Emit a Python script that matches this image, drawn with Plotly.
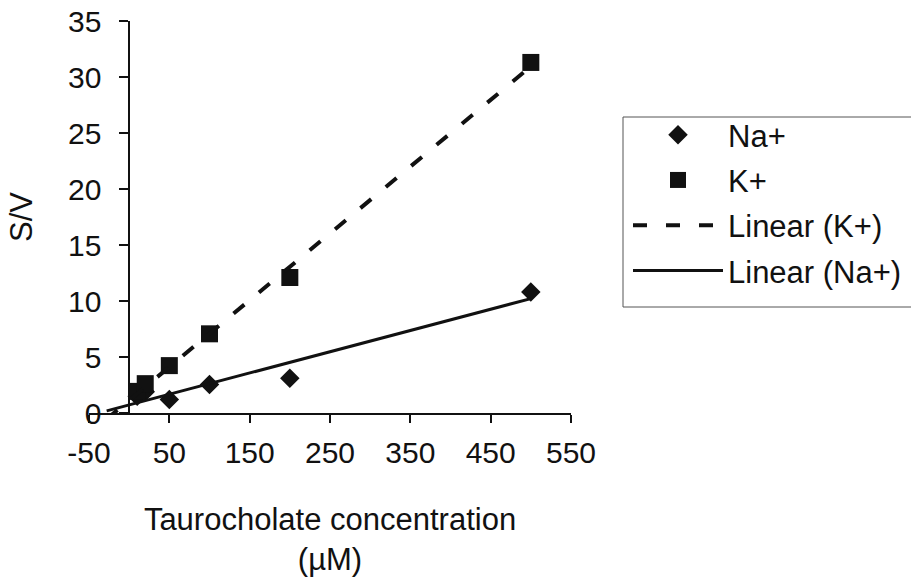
import numpy as np
import plotly.graph_objects as go

# Data
conc = [10, 20, 50, 100, 200, 500]            # Taurocholate concentration (µM)
na_sv = [1.5, 1.9, 1.2, 2.55, 3.1, 10.8]       # S/V with Na+
k_sv = [1.93, 2.62, 4.23, 7.07, 12.1, 31.3]    # S/V with K+
trend_start = -28                              # backward extent of the Excel trendlines

x_ticks = [-50, 50, 150, 250, 350, 450, 550]
y_ticks = [0, 5, 10, 15, 20, 25, 30, 35]

FONT = "Liberation Sans, Arial, Helvetica, sans-serif"
INK = "#111111"

def linfit(x, y):
    slope, icpt = np.polyfit(x, y, 1)
    xs = np.array([trend_start, max(x)])
    return xs, slope * xs + icpt

kx, ky = linfit(conc, k_sv)
nx, ny = linfit(conc, na_sv)

fig = go.Figure()
fig.add_trace(go.Scatter(x=conc, y=na_sv, mode="markers", name="Na+", legendgroup="a",
                         marker=dict(symbol="diamond", size=15, color=INK)))
fig.add_trace(go.Scatter(x=conc, y=k_sv, mode="markers", name="K+", legendgroup="b",
                         marker=dict(symbol="square", size=17, color=INK)))
fig.add_trace(go.Scatter(x=kx, y=ky, mode="lines", name="Linear (K+)", legendgroup="c",
                         line=dict(color=INK, width=4, dash="14px,19px")))
fig.add_trace(go.Scatter(x=nx, y=ny, mode="lines", name="Linear (Na+)", legendgroup="d",
                         line=dict(color=INK, width=3)))

# plot-area geometry in pixels (for placing the legend frame)
L, R, T, B = 89, 340, 21, 164
PW, PH = 911 - L - R, 577 - T - B

def px_x(p):
    return (p - L) / PW

def px_y(p):
    return (577 - B - p) / PH

fig.update_layout(
    width=911, height=577,
    margin=dict(l=L, r=R, t=T, b=B, autoexpand=False),
    paper_bgcolor="white", plot_bgcolor="white",
    font=dict(family=FONT, size=30, color=INK),
    showlegend=True,
    legend=dict(
        x=px_x(628), y=px_y(108), xanchor="left", yanchor="top",
        borderwidth=0, bgcolor="rgba(255,255,255,0)",
        font=dict(family=FONT, size=31, color=INK),
        itemwidth=90, tracegroupgap=2,
    ),
    shapes=[dict(type="rect", xref="paper", yref="paper",
                 x0=px_x(623), x1=px_x(930), y0=px_y(307), y1=px_y(117),
                 line=dict(color="#555555", width=1))],
    xaxis=dict(
        range=[-50, 550], tickvals=x_ticks, ticktext=[str(v) for v in x_ticks],
        showgrid=False, zeroline=False,
        showline=True, linecolor=INK, linewidth=1.5,
        ticks="outside", ticklen=8, tickwidth=1.5, tickcolor=INK,
        ticklabelstandoff=4,
        title=dict(text="Taurocholate concentration<br>(µM)", standoff=44,
                   font=dict(size=31)),
        automargin=False,
    ),
    yaxis=dict(
        range=[0, 35], tickvals=y_ticks, ticktext=[str(v) for v in y_ticks],
        showgrid=False, zeroline=False,
        anchor="free", position=50 / 600,
        showline=True, linecolor=INK, linewidth=1.5,
        ticks="outside", ticklen=9, tickwidth=1.5, tickcolor=INK,
        ticklabelstandoff=12,
        title=dict(text="S/V", standoff=25, font=dict(size=31)),
        automargin=False,
    ),
)

fig.write_html("out.html")
